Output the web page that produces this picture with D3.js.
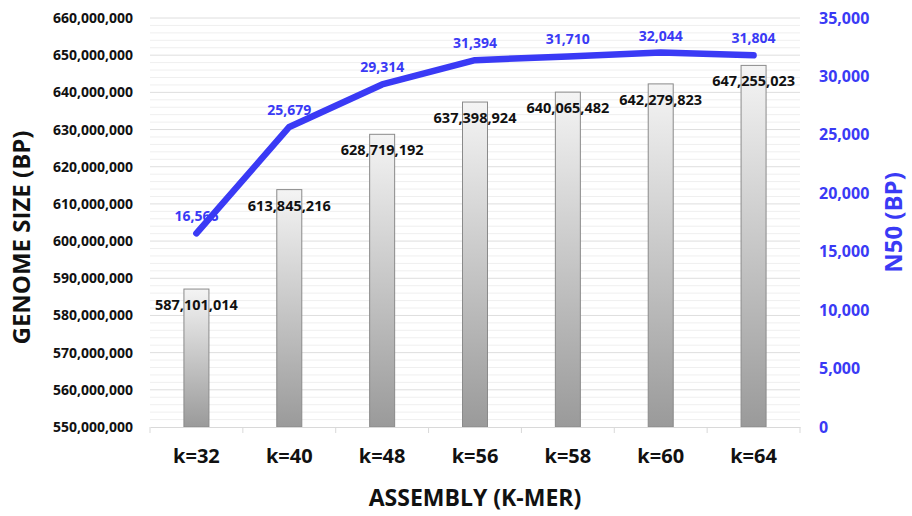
<!DOCTYPE html>
<html>
<head>
<meta charset="utf-8">
<script src="https://cdn.jsdelivr.net/npm/d3@7"></script>
<style>
  body { margin: 0; background: #fff; }
  text { font-family: "Open Sans", "Noto Sans", sans-serif; font-weight: bold; }
</style>
</head>
<body>
<div id="chart"></div>
<script>
const categories = ["k=32", "k=40", "k=48", "k=56", "k=58", "k=60", "k=64"];
const genomeSize = [587101014, 613845216, 628719192, 637398924, 640065482, 642279823, 647255023];
const n50 = [16566, 25679, 29314, 31394, 31710, 32044, 31804];
const leftTicks = [550e6, 560e6, 570e6, 580e6, 590e6, 600e6, 610e6, 620e6, 630e6, 640e6, 650e6, 660e6];
const rightTicks = [0, 5000, 10000, 15000, 20000, 25000, 30000, 35000];

const width = 912, height = 516;
const margin = { top: 18, right: 112, bottom: 89, left: 150 };
const blue = "#3a3af5";

const svg = d3.select("#chart").append("svg")
    .attr("width", width)
    .attr("height", height);

const defs = svg.append("defs");
const grad = defs.append("linearGradient")
    .attr("id", "barGrad")
    .attr("x1", 0).attr("y1", 0).attr("x2", 0).attr("y2", 1);
grad.append("stop").attr("offset", "0%").attr("stop-color", "#f4f4f4");
grad.append("stop").attr("offset", "100%").attr("stop-color", "#9a9a9a");

const x = d3.scaleBand()
    .domain(categories)
    .range([margin.left, width - margin.right]);

const yLeft = d3.scaleLinear()
    .domain([550e6, 660e6])
    .range([height - margin.bottom, margin.top]);

const yRight = d3.scaleLinear()
    .domain([0, 35000])
    .range([height - margin.bottom, margin.top]);

// gridlines every 2,000,000
const minor = d3.range(552e6, 660e6 + 1, 2e6);
svg.append("g")
    .selectAll("line")
    .data(minor)
    .join("line")
    .attr("x1", margin.left)
    .attr("x2", width - margin.right)
    .attr("y1", d => yLeft(d))
    .attr("y2", d => yLeft(d))
    .attr("stroke", d => d % 10e6 === 0 ? "#dedede" : "#efefef")
    .attr("stroke-width", 1);

// bars
const barW = 25;
svg.append("g")
    .selectAll("rect")
    .data(genomeSize)
    .join("rect")
    .attr("x", (d, i) => x(categories[i]) + x.bandwidth() / 2 - barW / 2)
    .attr("y", d => yLeft(d))
    .attr("width", barW)
    .attr("height", d => yLeft(550e6) - yLeft(d))
    .attr("fill", "url(#barGrad)")
    .attr("stroke", "#8a8a8a")
    .attr("stroke-width", 1);

// x axis
const xAxis = svg.append("g")
    .attr("transform", `translate(0,${height - margin.bottom})`)
    .call(d3.axisBottom(x).tickSize(0).tickPadding(22));
xAxis.select(".domain").attr("stroke", "#d9d9d9");
xAxis.selectAll("text")
    .attr("font-size", 20)
    .attr("fill", "#111");
svg.append("g")
    .selectAll("line")
    .data(d3.range(categories.length + 1))
    .join("line")
    .attr("x1", i => margin.left + i * x.step())
    .attr("x2", i => margin.left + i * x.step())
    .attr("y1", height - margin.bottom)
    .attr("y2", height - margin.bottom + 6)
    .attr("stroke", "#d9d9d9");

// left axis
const yAxisL = svg.append("g")
    .attr("transform", `translate(${margin.left - 14},0)`)
    .call(d3.axisLeft(yLeft).tickValues(leftTicks).tickSize(0).tickFormat(d3.format(",")));
yAxisL.select(".domain").remove();
yAxisL.selectAll("text").attr("font-size", 14).attr("fill", "#111");

// right axis
const yAxisR = svg.append("g")
    .attr("transform", `translate(${width - margin.right + 16},0)`)
    .call(d3.axisRight(yRight).tickValues(rightTicks).tickSize(0).tickFormat(d3.format(",")));
yAxisR.select(".domain").remove();
yAxisR.selectAll("text").attr("font-size", 16).attr("fill", blue);

// N50 line
const line = d3.line()
    .x((d, i) => x(categories[i]) + x.bandwidth() / 2)
    .y(d => yRight(d));
svg.append("path")
    .datum(n50)
    .attr("d", line)
    .attr("fill", "none")
    .attr("stroke", blue)
    .attr("stroke-width", 6.5)
    .attr("stroke-linecap", "round")
    .attr("stroke-linejoin", "round");

// bar labels
svg.append("g")
    .selectAll("text")
    .data(genomeSize)
    .join("text")
    .attr("x", (d, i) => x(categories[i]) + x.bandwidth() / 2)
    .attr("y", d => yLeft(d) + 21)
    .attr("text-anchor", "middle")
    .attr("font-size", 14.5)
    .attr("fill", "#111")
    .text(d => d3.format(",")(d));

// N50 labels
svg.append("g")
    .selectAll("text")
    .data(n50)
    .join("text")
    .attr("x", (d, i) => x(categories[i]) + x.bandwidth() / 2)
    .attr("y", d => yRight(d) - 12)
    .attr("text-anchor", "middle")
    .attr("font-size", 14)
    .attr("fill", blue)
    .text(d => d3.format(",")(d));

// titles
svg.append("text")
    .attr("x", (margin.left + width - margin.right) / 2)
    .attr("y", 506)
    .attr("text-anchor", "middle")
    .attr("font-size", 23)
    .attr("fill", "#111")
    .text("ASSEMBLY (K-MER)");

svg.append("text")
    .attr("transform", `translate(30,${(margin.top + height - margin.bottom) / 2 + 15}) rotate(-90)`)
    .attr("text-anchor", "middle")
    .attr("font-size", 24)
    .attr("fill", "#111")
    .text("GENOME SIZE (BP)");

svg.append("text")
    .attr("transform", `translate(902,${(margin.top + height - margin.bottom) / 2}) rotate(-90)`)
    .attr("text-anchor", "middle")
    .attr("font-size", 24)
    .attr("fill", blue)
    .text("N50 (BP)");
</script>
</body>
</html>
